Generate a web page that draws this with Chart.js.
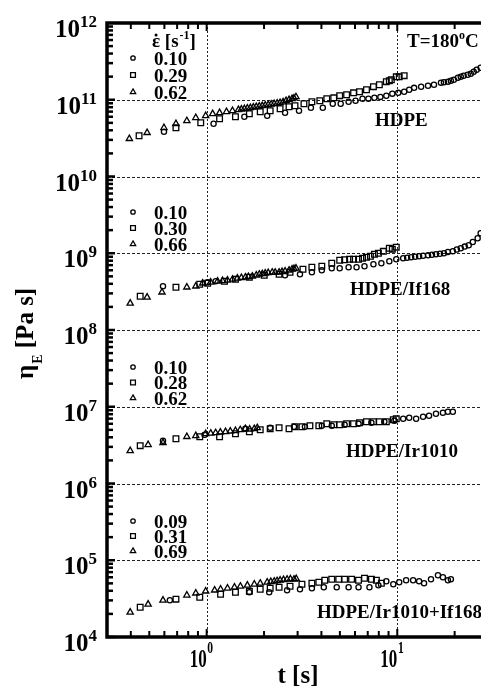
<!DOCTYPE html>
<html>
<head>
<meta charset="utf-8">
<script src="https://cdn.jsdelivr.net/npm/chart.js@4.4.1/dist/chart.umd.min.js"></script>
<style>
  html, body { margin: 0; padding: 0; background: #fff; overflow: hidden; }
  #wrap { width: 481px; height: 689px; }
</style>
</head>
<body>
<div id="wrap"><canvas id="chart" width="481" height="689"></canvas></div>
<script>
// [t (s), eta_E (Pa s)], one list per strain rate
const hdpe010 = [[0.597,3.83e10],[1.087,4.87e10],[1.577,6.00e10],[2.078,6.19e10],[2.578,6.77e10],[3.051,7.19e10],[3.523,7.87e10],[4.067,7.87e10],[4.587,8.87e10],[5.048,8.87e10],[5.555,9.42e10],[6.042,9.70e10],[6.572,1.03e11],[7.061,1.03e11],[7.588,1.06e11],[8.154,1.09e11],[8.762,1.13e11],[9.418,1.20e11],[10.12,1.23e11],[10.87,1.27e11],[11.55,1.35e11],[12.26,1.43e11],[13.34,1.48e11],[14.50,1.52e11],[15.58,1.57e11],[16.95,1.67e11],[17.57,1.69e11],[18.44,1.72e11],[19.11,1.77e11],[19.81,1.82e11],[20.8,1.94e11],[21.54,1.99e11],[22.3,2.05e11],[23.42,2.12e11],[24.3,2.18e11],[25.18,2.32e11],[26.1,2.46e11],[27.38,2.61e11]];
const hdpe029 = [[0.442,3.40e10],[0.690,4.32e10],[0.931,5.01e10],[1.169,5.65e10],[1.416,6.00e10],[1.675,6.57e10],[1.910,6.98e10],[2.154,7.19e10],[2.428,7.63e10],[2.705,8.11e10],[2.907,8.35e10],[3.239,8.87e10],[3.565,9.42e10],[3.924,9.70e10],[4.267,1.03e11],[4.642,1.06e11],[4.988,1.13e11],[5.423,1.16e11],[5.899,1.23e11],[6.339,1.27e11],[6.894,1.35e11],[7.498,1.48e11],[8.057,1.57e11],[8.762,1.72e11],[9.085,1.77e11],[9.306,1.82e11],[9.881,1.99e11],[10.24,1.99e11],[10.87,2.06e11]];
const hdpe062 = [[0.393,3.11e10],[0.487,3.72e10],[0.597,4.32e10],[0.690,4.87e10],[0.787,5.32e10],[0.877,5.83e10],[0.988,6.19e10],[1.075,6.57e10],[1.169,6.77e10],[1.271,6.98e10],[1.366,7.19e10],[1.468,7.41e10],[1.521,7.52e10],[1.577,7.63e10],[1.635,7.75e10],[1.695,7.87e10],[1.757,7.98e10],[1.821,8.11e10],[1.888,8.23e10],[1.957,8.35e10],[2.029,8.48e10],[2.103,8.61e10],[2.180,8.74e10],[2.260,8.87e10],[2.343,9.00e10],[2.428,9.14e10],[2.518,9.35e10],[2.610,9.70e10],[2.705,1.00e11],[2.805,1.03e11],[2.872,1.05e11],[2.942,1.09e11]];

const if168_010 = [[0.590,3.72e8],[1.012,4.19e8],[1.114,4.32e8],[2.578,5.17e8],[3.087,5.32e8],[3.565,5.65e8],[4.019,6.00e8],[4.532,6.38e8],[4.988,6.38e8],[5.555,6.57e8],[6.115,6.57e8],[6.731,6.77e8],[7.498,7.19e8],[8.253,7.41e8],[9.085,7.87e8],[9.881,8.35e8],[10.74,8.61e8],[11.27,8.74e8],[11.83,8.87e8],[12.41,9.00e8],[13.02,9.14e8],[13.66,9.28e8],[14.50,9.42e8],[15.21,9.55e8],[15.96,9.70e8],[16.75,9.85e8],[17.57,1.00e9],[18.44,1.04e9],[19.57,1.06e9],[20.54,1.12e9],[21.54,1.16e9],[22.6,1.22e9],[23.71,1.27e9],[24.9,1.40e9],[26.41,1.57e9],[27.38,1.82e9]];
const if168_030 = [[0.448,2.75e8],[0.690,3.61e8],[0.920,3.95e8],[1.012,4.07e8],[1.241,4.32e8],[1.416,4.58e8],[1.675,4.87e8],[2.005,5.17e8],[2.399,5.32e8],[2.738,5.65e8],[3.200,6.19e8],[3.565,6.57e8],[4.019,6.77e8],[4.532,7.41e8],[4.988,8.11e8],[5.295,8.23e8],[5.623,8.35e8],[5.899,8.35e8],[6.263,8.35e8],[6.572,8.61e8],[6.894,8.87e8],[7.23,9.14e8],[7.588,9.70e8],[7.961,1.00e9],[8.453,1.06e9],[9.085,1.16e9],[9.418,1.13e9],[9.881,1.20e9]];
const if168_066 = [[0.397,2.23e8],[0.487,2.67e8],[0.583,3.11e8],[0.787,3.61e8],[0.877,3.72e8],[0.953,4.07e8],[1.049,4.19e8],[1.141,4.32e8],[1.211,4.38e8],[1.286,4.45e8],[1.366,4.58e8],[1.449,4.72e8],[1.521,4.80e8],[1.596,4.87e8],[1.655,4.94e8],[1.737,5.01e8],[1.821,5.17e8],[1.888,5.32e8],[1.957,5.40e8],[2.029,5.49e8],[2.103,5.57e8],[2.207,5.65e8],[2.287,5.65e8],[2.399,5.65e8],[2.486,5.74e8],[2.578,5.83e8],[2.705,6.00e8],[2.805,6.19e8],[2.872,6.28e8],[2.942,6.38e8]];

const ir1010_010 = [[0.590,3.61e6],[0.976,4.32e6],[1.596,5.17e6],[2.154,5.32e6],[2.872,5.49e6],[3.278,5.49e6],[4.019,5.65e6],[4.532,5.65e6],[5.295,5.83e6],[6.263,6.00e6],[7.320,6.19e6],[8.555,6.38e6],[9.647,6.57e6],[10.74,6.98e6],[11.55,7.19e6],[12.56,6.98e6],[13.66,7.41e6],[14.68,7.63e6],[15.96,8.11e6],[17.36,8.35e6],[18.44,8.61e6],[19.57,8.61e6]];
const ir1010_028 = [[0.448,3.11e6],[0.690,3.83e6],[0.920,4.07e6],[1.169,4.07e6],[1.416,4.45e6],[1.675,4.72e6],[1.910,5.01e6],[2.154,5.17e6],[2.399,5.32e6],[2.705,5.17e6],[2.907,5.49e6],[3.162,5.49e6],[3.481,5.65e6],[3.877,5.65e6],[4.267,6.00e6],[4.642,5.83e6],[4.988,5.83e6],[5.423,6.00e6],[5.899,6.00e6],[6.339,6.19e6],[6.894,6.38e6],[7.498,6.38e6],[8.057,6.38e6],[8.762,6.38e6],[9.532,6.77e6],[9.881,6.98e6]];
const ir1010_062 = [[0.397,2.67e6],[0.493,3.20e6],[0.590,3.40e6],[0.787,4.07e6],[0.877,4.19e6],[0.988,4.45e6],[1.05,4.51e6],[1.114,4.58e6],[1.18,4.65e6],[1.256,4.72e6],[1.33,4.80e6],[1.416,4.87e6],[1.50,5.01e6],[1.596,5.17e6],[1.68,5.09e6],[1.778,5.17e6],[1.843,5.32e6]];

const both_009 = [[0.641,3.01e4],[1.675,3.83e4],[2.129,3.83e4],[2.641,4.07e4],[3.087,4.19e4],[3.565,4.32e4],[4.117,4.45e4],[4.812,4.45e4],[5.555,4.45e4],[6.263,4.45e4],[7.147,4.45e4],[7.961,4.72e4],[8.762,5.32e4],[9.532,4.87e4],[10.24,5.17e4],[11.13,5.49e4],[12.11,5.49e4],[13.02,5.32e4],[13.82,5.01e4],[15.03,5.65e4],[16.35,6.38e4],[17.36,6.00e4],[18.44,5.49e4],[19.11,5.65e4]];
const both_031 = [[0.448,2.44e4],[0.690,3.11e4],[0.920,3.30e4],[1.183,3.61e4],[1.416,3.83e4],[1.675,3.95e4],[1.910,4.19e4],[2.154,4.32e4],[2.399,4.45e4],[2.738,4.58e4],[3.162,4.87e4],[3.565,5.01e4],[3.877,5.17e4],[4.166,5.49e4],[4.532,5.65e4],[4.929,5.65e4],[5.295,5.65e4],[5.759,5.65e4],[6.263,5.49e4],[6.731,5.83e4],[7.320,5.65e4],[7.772,5.49e4],[8.253,5.01e4]];
const both_069 = [[0.397,2.10e4],[0.493,2.67e4],[0.590,3.01e4],[0.787,3.50e4],[0.877,3.72e4],[0.988,3.95e4],[1.101,4.07e4],[1.183,4.19e4],[1.286,4.32e4],[1.399,4.45e4],[1.503,4.58e4],[1.635,4.72e4],[1.778,4.87e4],[1.910,5.01e4],[2.078,5.17e4],[2.17,5.25e4],[2.260,5.32e4],[2.34,5.40e4],[2.428,5.49e4],[2.53,5.57e4],[2.641,5.65e4],[2.75,5.70e4],[2.872,5.65e4],[2.95,5.75e4]];

const sampleNames = ['HDPE', 'HDPE/If168', 'HDPE/Ir1010', 'HDPE/Ir1010+If168'];
const rateLabels = [
  ['0.10', '0.29', '0.62'],
  ['0.10', '0.30', '0.66'],
  ['0.10', '0.28', '0.62'],
  ['0.09', '0.31', '0.69']
];
const seriesBySample = [
  [hdpe010, hdpe029, hdpe062],
  [if168_010, if168_030, if168_066],
  [ir1010_010, ir1010_028, ir1010_062],
  [both_009, both_031, both_069]
];

const SERIF = '"Liberation Serif", "Times New Roman", serif';
const markers = [
  { style: 'circle', radius: 2.6 },
  { style: 'rect', radius: 4.0 },
  { style: 'triangle', radius: 3.6 }
];

const datasets = [];
seriesBySample.forEach((group, g) => {
  group.forEach((pts, i) => {
    datasets.push({
      label: sampleNames[g] + ' ' + rateLabels[g][i],
      data: pts.map(p => ({ x: p[0], y: p[1] })),
      pointStyle: markers[i].style,
      pointRadius: markers[i].radius,
      borderColor: '#000',
      backgroundColor: 'rgba(0,0,0,0)',
      borderWidth: 1.3,
      showLine: false
    });
  });
});

function marker(ctx, style, r, x, y) {
  ctx.beginPath();
  if (style === 'circle') {
    ctx.arc(x, y, r, 0, Math.PI * 2);
  } else if (style === 'rect') {
    const s = r * Math.SQRT1_2;
    ctx.rect(x - s, y - s, 2 * s, 2 * s);
  } else {
    for (let k = 0; k < 3; k++) {
      const a = k * 2 * Math.PI / 3;
      const px = x + Math.sin(a) * r, py = y - Math.cos(a) * r;
      k ? ctx.lineTo(px, py) : ctx.moveTo(px, py);
    }
    ctx.closePath();
  }
  ctx.stroke();
}

function boldFont(size) { return 'bold ' + size + 'px ' + SERIF; }

const decorations = {
  id: 'decorations',
  beforeDatasetsDraw(chart) {
    const { ctx, chartArea: a, scales: { x, y } } = chart;
    ctx.save();
    ctx.strokeStyle = '#222';
    ctx.lineWidth = 1;
    ctx.setLineDash([3, 2]);
    for (let e = 5; e <= 11; e++) {
      const py = Math.round(y.getPixelForValue(Math.pow(10, e))) + 0.5;
      ctx.beginPath(); ctx.moveTo(a.left, py); ctx.lineTo(a.right, py); ctx.stroke();
    }
    ctx.setLineDash([2, 2]);
    [1, 10].forEach(v => {
      const px = Math.round(x.getPixelForValue(v)) + 0.5;
      ctx.beginPath(); ctx.moveTo(px, a.top); ctx.lineTo(px, a.bottom); ctx.stroke();
    });
    ctx.restore();
  },
  afterDatasetsDraw(chart) {
    const { ctx, chartArea: a, scales: { x, y } } = chart;
    ctx.save();
    ctx.strokeStyle = '#000';
    ctx.fillStyle = '#000';

    // ticks, pointing inward
    ctx.lineWidth = 2.5;
    for (let e = 4; e <= 11; e++) {
      for (let m = 1; m <= 9; m++) {
        const py = y.getPixelForValue(m * Math.pow(10, e));
        const len = m === 1 ? 8 : 6;
        ctx.beginPath(); ctx.moveTo(a.left, py); ctx.lineTo(a.left + len, py); ctx.stroke();
      }
    }
    ctx.lineWidth = 2;
    for (let e = -1; e <= 1; e++) {
      for (let m = 1; m <= 9; m++) {
        const v = m * Math.pow(10, e);
        if (v < x.min || v > x.max) continue;
        const px = x.getPixelForValue(v);
        const len = m === 1 ? 8 : 6;
        ctx.beginPath(); ctx.moveTo(px, a.bottom); ctx.lineTo(px, a.bottom - len); ctx.stroke();
        ctx.beginPath(); ctx.moveTo(px, a.top); ctx.lineTo(px, a.top + len); ctx.stroke();
      }
    }

    // frame
    ctx.lineWidth = 3.5;
    ctx.beginPath();
    ctx.moveTo(a.right + 2, a.top); ctx.lineTo(a.left, a.top);
    ctx.lineTo(a.left, a.bottom); ctx.lineTo(a.right + 2, a.bottom);
    ctx.stroke();

    // y tick labels 10^n
    ctx.textBaseline = 'alphabetic';
    ctx.textAlign = 'left';
    for (let e = 4; e <= 12; e++) {
      const py = y.getPixelForValue(Math.pow(10, e));
      ctx.font = boldFont(17);
      const we = ctx.measureText(String(e)).width;
      ctx.font = boldFont(25);
      const wb = ctx.measureText('10').width;
      const right = 97;
      ctx.fillText('10', right - we - wb, py + 14);
      ctx.font = boldFont(17);
      ctx.fillText(String(e), right - we, py + 4);
    }

    // x tick labels 10^n (narrow in the original)
    [0, 1].forEach(e => {
      const px = x.getPixelForValue(Math.pow(10, e));
      ctx.save();
      ctx.translate(px, 667);
      ctx.scale(0.68, 1);
      ctx.font = boldFont(25);
      ctx.textAlign = 'right';
      ctx.fillText('10', 0, 0);
      ctx.font = boldFont(17);
      ctx.textAlign = 'left';
      ctx.fillText(String(e), 1, -14);
      ctx.restore();
    });

    // axis titles
    ctx.font = boldFont(25);
    ctx.textAlign = 'center';
    ctx.fillText('t [s]', 298, 683);

    ctx.save();
    ctx.translate(33, 379);
    ctx.rotate(-Math.PI / 2);
    ctx.textAlign = 'left';
    ctx.font = boldFont(25);
    ctx.fillText('\u03B7', 0, 0);
    let cx = ctx.measureText('\u03B7').width + 1;
    ctx.font = boldFont(14);
    ctx.fillText('E', cx, 9);
    cx += ctx.measureText('E').width;
    ctx.font = boldFont(25);
    ctx.fillText(' [Pa s]', cx, 0);
    ctx.restore();

    // legend header (epsilon with a rate dot) and temperature
    ctx.textAlign = 'left';
    ctx.font = boldFont(19);
    const epsW = ctx.measureText('\u03B5').width;
    ctx.fillText('\u03B5', 152, 47);
    ctx.beginPath();
    ctx.arc(152 + epsW / 2, 35, 1.5, 0, Math.PI * 2);
    ctx.fill();
    ctx.fillText(' [s', 152 + epsW, 47);
    let hx = 152 + epsW + ctx.measureText(' [s').width;
    ctx.font = boldFont(12);
    ctx.fillText('-1', hx + 1, 39);
    hx += ctx.measureText('-1').width + 1;
    ctx.font = boldFont(19);
    ctx.fillText(']', hx, 47);

    ctx.fillText('T=180', 407, 47);
    let tx = 407 + ctx.measureText('T=180').width;
    ctx.font = boldFont(12);
    ctx.fillText('o', tx, 39);
    tx += ctx.measureText('o').width;
    ctx.font = boldFont(19);
    ctx.fillText('C', tx, 47);

    // per-sample legends and names
    const legendTop = [58, 212, 367, 521];
    const legendStep = [17, 16, 15.5, 15];
    const namePos = [[375, 126], [350, 295], [346, 457], [317, 618]];
    ctx.lineWidth = 1.3;
    sampleNames.forEach((name, g) => {
      rateLabels[g].forEach((lab, i) => {
        const ly = legendTop[g] + i * legendStep[g];
        marker(ctx, markers[i].style, markers[i].radius * 0.85, 133, ly);
        ctx.font = boldFont(19);
        ctx.fillText(lab, 154, ly + 6.5);
      });
      ctx.font = boldFont(19);
      ctx.fillText(name, namePos[g][0], namePos[g][1]);
    });

    ctx.restore();
  }
};

new Chart(document.getElementById('chart'), {
  type: 'scatter',
  data: { datasets },
  options: {
    responsive: false,
    animation: false,
    devicePixelRatio: 1,
    layout: { padding: { top: 23, right: 0, bottom: 0, left: 0 }, autoPadding: false },
    plugins: { legend: { display: false }, tooltip: { enabled: false } },
    scales: {
      x: {
        type: 'logarithmic',
        min: 0.31,
        max: 27.5,
        ticks: { display: false },
        grid: { display: false },
        border: { display: false },
        afterFit: s => { s.height = 52; }
      },
      y: {
        type: 'logarithmic',
        min: 1e4,
        max: 1e12,
        ticks: { display: false },
        grid: { display: false },
        border: { display: false },
        afterFit: s => { s.width = 107; }
      }
    }
  },
  plugins: [decorations]
});
</script>
</body>
</html>
